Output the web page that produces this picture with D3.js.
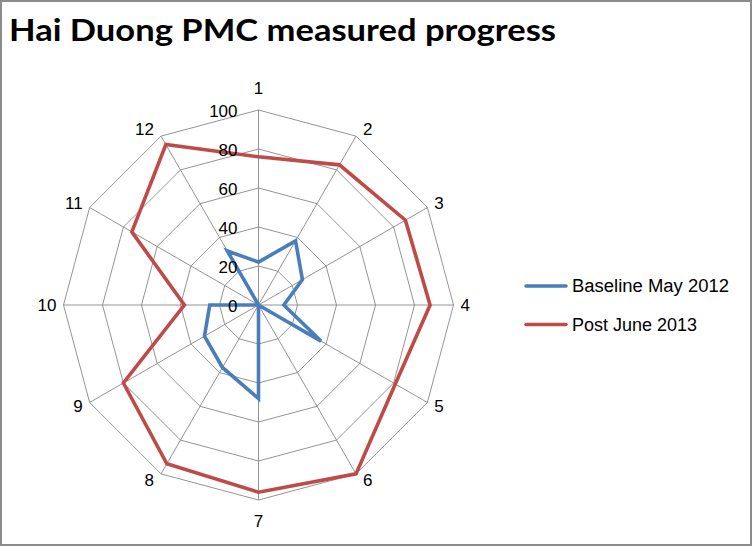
<!DOCTYPE html>
<html>
<head>
<meta charset="utf-8">
<script src="https://cdn.jsdelivr.net/npm/d3@7"></script>
<style>
  html, body { margin: 0; padding: 0; background: #fff; }
  svg { display: block; }
</style>
</head>
<body>
<svg width="752" height="546"></svg>
<script>
// data
const categories = ['1', '2', '3', '4', '5', '6', '7', '8', '9', '10', '11', '12'];
const baselineMay2012 = [22, 38, 26, 13, 37, 0, 48, 37, 32, 25, 0, 32];
const postJune2013 = [76, 83, 87, 88, 81, 100, 96, 94, 80, 38, 75, 95];
const tickValues = [0, 20, 40, 60, 80, 100];
const seriesNames = ['Baseline May 2012', 'Post June 2013'];

const svg = d3.select('svg');
const width = +svg.attr('width');
const height = +svg.attr('height');

// fond + cadre gris
svg.append('rect')
    .attr('x', 1).attr('y', 1)
    .attr('width', width - 2).attr('height', height - 2)
    .attr('fill', '#fff')
    .attr('stroke', '#8c8c8c')
    .attr('stroke-width', 2);

// titre
svg.append('text')
    .attr('x', 9)
    .attr('y', 41)
    .attr('font-family', 'Lato, "Open Sans", sans-serif')
    .attr('font-weight', 'bold')
    .attr('font-size', 30)
    .attr('textLength', 547)
    .attr('lengthAdjust', 'spacingAndGlyphs')
    .attr('fill', '#000')
    .text('Hai Duong PMC measured progress');

const cx = 258.5, cy = 305, R = 195;
const g = svg.append('g').attr('transform', `translate(${cx},${cy})`);
const fontAxis = '"Liberation Sans", Arial, sans-serif';

const r = d3.scaleLinear().domain([0, 100]).range([0, R]);
const angle = d3.scalePoint().domain(categories).range([0, 2 * Math.PI * (11 / 12)]);
const pt = (cat, v) => [Math.sin(angle(cat)) * r(v), -Math.cos(angle(cat)) * r(v)];

// grille polygonale
tickValues.filter(t => t > 0).forEach(t => {
    g.append('path')
        .attr('d', d3.line()(categories.map(c => pt(c, t))) + 'Z')
        .attr('fill', 'none')
        .attr('stroke', '#888')
        .attr('stroke-width', 0.9);
});

// rayons
g.selectAll('line.spoke')
    .data(categories)
    .join('line')
    .attr('class', 'spoke')
    .attr('x1', 0).attr('y1', 0)
    .attr('x2', d => pt(d, 100)[0])
    .attr('y2', d => pt(d, 100)[1])
    .attr('stroke', '#888')
    .attr('stroke-width', 0.9);

// étiquettes des axes (placées à côté du bout de chaque rayon, comme Excel)
const side = d => {
    const s = Math.sin(angle(d));
    return Math.abs(s) < 0.01 ? 0 : Math.sign(s);
};
g.selectAll('text.cat')
    .data(categories)
    .join('text')
    .attr('class', 'cat')
    .attr('x', d => pt(d, 100)[0] + side(d) * 7)
    .attr('y', d => {
        const [, y] = pt(d, 100);
        const c = Math.cos(angle(d));
        return side(d) === 0 ? y - Math.sign(c) * 21.5 : y - c * 7.5;
    })
    .attr('text-anchor', d => side(d) > 0 ? 'start' : side(d) < 0 ? 'end' : 'middle')
    .attr('dominant-baseline', 'central')
    .attr('font-family', fontAxis)
    .attr('font-size', 17)
    .attr('fill', '#000')
    .text(d => d);

// séries
const colors = ['#4a7ebb', '#be4b48'];
const series = [baselineMay2012, postJune2013];
series.forEach((vals, i) => {
    g.append('path')
        .attr('d', d3.line()(categories.map((c, j) => pt(c, vals[j]))) + 'Z')
        .attr('fill', 'none')
        .attr('stroke', colors[i])
        .attr('stroke-width', 3.6)
        .attr('stroke-linejoin', 'miter');
});

// graduations
g.selectAll('text.tick')
    .data(tickValues)
    .join('text')
    .attr('class', 'tick')
    .attr('x', -21)
    .attr('y', d => -r(d) + 1)
    .attr('text-anchor', 'end')
    .attr('dominant-baseline', 'central')
    .attr('font-family', fontAxis)
    .attr('font-size', 17)
    .attr('fill', '#000')
    .text(d => d);

// légende
const legendWidths = [157, 125];
const legend = svg.append('g')
    .selectAll('g')
    .data(seriesNames)
    .join('g')
    .attr('transform', (d, i) => `translate(525,${286 + i * 38.5})`);

legend.append('line')
    .attr('x1', 1).attr('x2', 41)
    .attr('stroke', (d, i) => colors[i])
    .attr('stroke-width', 3.6)
    .attr('stroke-linecap', 'round');

legend.append('text')
    .attr('x', 47)
    .attr('dy', '0.35em')
    .attr('font-family', fontAxis)
    .attr('font-size', 18)
    .attr('textLength', (d, i) => legendWidths[i])
    .attr('lengthAdjust', 'spacingAndGlyphs')
    .attr('fill', '#000')
    .text(d => d);
</script>
</body>
</html>
